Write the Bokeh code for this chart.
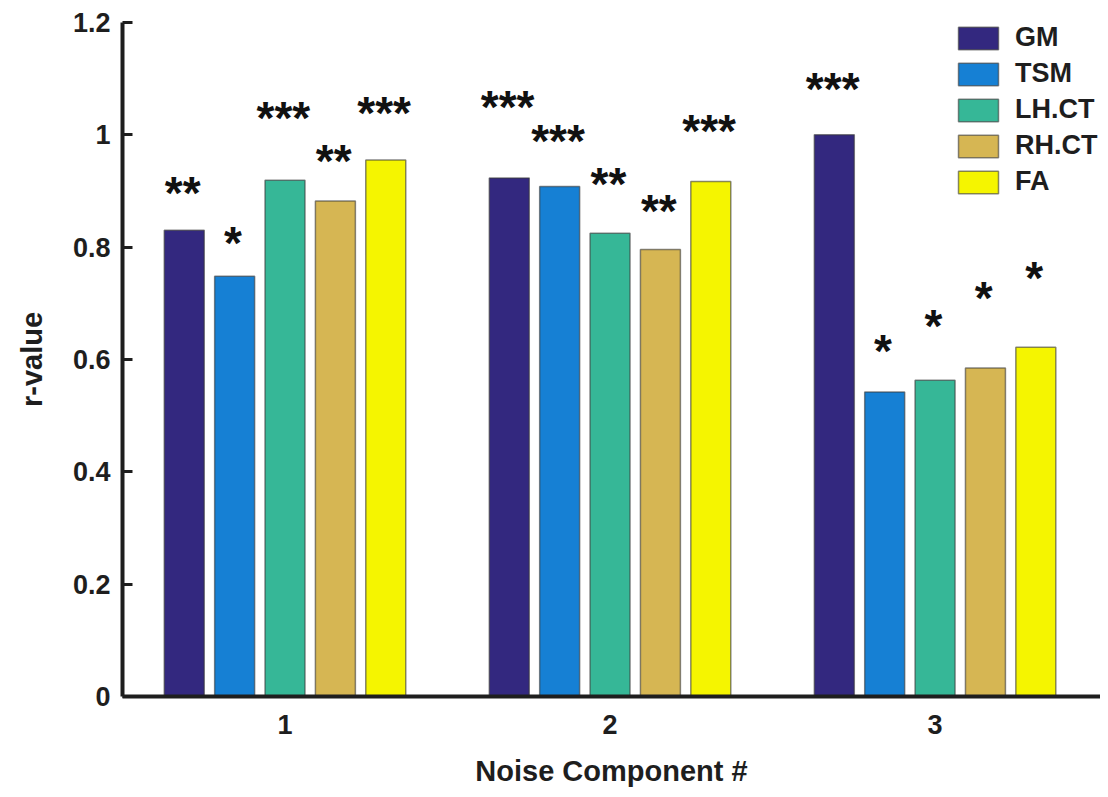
from bokeh.plotting import figure
from bokeh.models import ColumnDataSource, FixedTicker, Legend, LegendItem
from bokeh.transform import dodge
from bokeh.core.properties import value
from bokeh.embed import file_html
from bokeh.resources import INLINE

components = [1, 2, 3]
series = ["GM", "TSM", "LH.CT", "RH.CT", "FA"]
colors = ["#33287f", "#1680d4", "#36b797", "#d6b653", "#f5f500"]

gm = [0.830, 0.923, 1.000]
tsm = [0.748, 0.908, 0.542]
lh_ct = [0.919, 0.825, 0.563]
rh_ct = [0.882, 0.796, 0.585]
fa = [0.955, 0.917, 0.622]

gm_sig = ["**", "***", "***"]
tsm_sig = ["*", "***", "*"]
lh_sig = ["***", "**", "*"]
rh_sig = ["**", "**", "*"]
fa_sig = ["***", "***", "*"]

gm_sig_y = [0.908, 1.061, 1.093]
tsm_sig_y = [0.818, 0.999, 0.626]
lh_sig_y = [1.040, 0.923, 0.670]
rh_sig_y = [0.964, 0.875, 0.720]
fa_sig_y = [1.049, 1.017, 0.756]

y_ticks = [0, 0.2, 0.4, 0.6, 0.8, 1, 1.2]
y_tick_labels = ["0", "0.2", "0.4", "0.6", "0.8", "1", "1.2"]
x_tick_labels = ["1", "2", "3"]

values = [gm, tsm, lh_ct, rh_ct, fa]
sigs = [gm_sig, tsm_sig, lh_sig, rh_sig, fa_sig]
sig_ys = [gm_sig_y, tsm_sig_y, lh_sig_y, rh_sig_y, fa_sig_y]
offsets = [-0.31, -0.155, 0.0, 0.155, 0.31]

FONT = "Liberation Sans"
DARK = "#1e1e1e"

p = figure(width=1100, height=789, x_range=(0.5, 3.509), y_range=(0, 1.2),
           output_backend="svg", toolbar_location=None,
           min_border_left=122, min_border_top=22, min_border_bottom=92, min_border_right=0)
p.outline_line_color = None
p.xgrid.grid_line_color = None
p.ygrid.grid_line_color = None

items = []
for name, col, vals, sg, sy, off in zip(series, colors, values, sigs, sig_ys, offsets):
    src = ColumnDataSource(dict(x=components, top=vals, sig=sg, sy=sy))
    r = p.vbar(x=dodge("x", off, range=p.x_range), top="top", bottom=0, width=0.123,
               source=src, fill_color=col, line_color="#3a3a3a", line_alpha=0.6, line_width=1.5)
    items.append(LegendItem(label=name, renderers=[r]))
    p.text(x=dodge("x", off - 0.005, range=p.x_range), y="sy", text="sig", source=src,
           text_font=value(FONT), text_font_style="bold", text_font_size="46px",
           text_align="center", text_baseline="alphabetic", y_offset=6, text_color="#111111")

# axes
for ax in (p.xaxis[0], p.yaxis[0]):
    ax.axis_line_width = 4
    ax.axis_line_color = DARK
    ax.major_tick_line_color = DARK
    ax.major_tick_line_width = 3
    ax.minor_tick_line_color = None
    ax.major_label_text_font = FONT
    ax.major_label_text_font_style = "bold"
    ax.major_label_text_font_size = "27px"
    ax.major_label_text_color = DARK
    ax.axis_label_text_font = FONT
    ax.axis_label_text_font_style = "bold"
    ax.axis_label_text_font_size = "29px"
    ax.axis_label_text_color = DARK

p.yaxis.ticker = FixedTicker(ticks=y_ticks)
p.yaxis.major_label_overrides = {t: l for t, l in zip(y_ticks, y_tick_labels)}
p.yaxis.major_tick_in = 10
p.yaxis.major_tick_out = 0
p.yaxis.major_label_standoff = 12
p.yaxis.axis_label = "r-value"
p.yaxis.axis_label_standoff = 22

p.xaxis.ticker = FixedTicker(ticks=components)
p.xaxis.major_label_overrides = {c: l for c, l in zip(components, x_tick_labels)}
p.xaxis.major_tick_in = 0
p.xaxis.major_tick_out = 0
p.xaxis.major_label_standoff = 18
p.xaxis.axis_label = "Noise Component #"
p.xaxis.axis_label_standoff = 18

legend = Legend(items=items, location=(831, 499), orientation="vertical",
                glyph_width=50, glyph_height=28, label_height=28, spacing=5,
                label_standoff=12, padding=0, margin=0,
                border_line_color=None, background_fill_alpha=0,
                label_text_font=FONT, label_text_font_style="bold",
                label_text_font_size="27px", label_text_color=DARK)
p.add_layout(legend)

open("out.html", "w").write(file_html(p, INLINE))
